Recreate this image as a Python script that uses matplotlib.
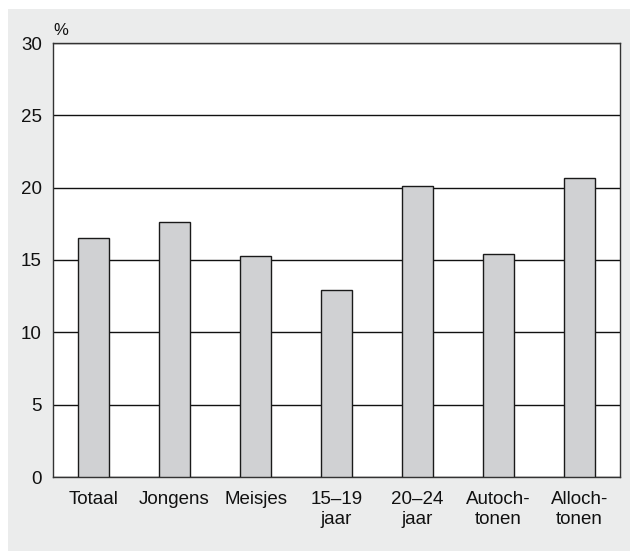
import matplotlib
matplotlib.use("Agg")
import matplotlib.pyplot as plt
from matplotlib.patches import Rectangle

plt.rcParams['font.family'] = ['Liberation Sans', 'DejaVu Sans']

categories = ["Totaal", "Jongens", "Meisjes", "15–19\njaar", "20–24\njaar", "Autoch-\ntonen", "Alloch-\ntonen"]
values = [16.5, 17.65, 15.25, 12.9, 20.1, 15.4, 20.7]
yticks = [0, 5, 10, 15, 20, 25, 30]

W, H = 630, 551
fig = plt.figure(figsize=(W / 100, H / 100), dpi=100)
fig.patch.set_facecolor("white")
bg = Rectangle((8 / W, 0), 1 - 8 / W, (H - 9) / H, transform=fig.transFigure,
               facecolor="#ebecec", edgecolor="none", zorder=-10)
fig.add_artist(bg)

ax = fig.add_axes([53 / W, (H - 477) / H, 567 / W, 434 / H])
ax.set_zorder(5)
ax.set_facecolor("white")
x = list(range(len(categories)))
ax.bar(x, values, width=0.395, color="#d0d1d3", edgecolor="#1a1a1a", linewidth=1.0, zorder=3)
ax.set_xlim(-0.5, len(categories) - 0.5)
ax.set_ylim(0, 30)
ax.set_yticks(yticks)
ax.set_yticklabels([str(t) for t in yticks], fontsize=13.5)
ax.set_xticks(x)
ax.set_xticklabels(categories, fontsize=13.5, linespacing=1.25)
ax.tick_params(axis="both", length=0, colors="#111111")
ax.tick_params(axis="y", pad=8)
ax.tick_params(axis="x", pad=10)
ax.yaxis.grid(True, color="#111111", linewidth=1.0, zorder=1)
ax.set_axisbelow(True)
for s in ax.spines.values():
    s.set_color("#333333")
    s.set_linewidth(1.0)
ax.text(0.0, 1.012, "%", transform=ax.transAxes, fontsize=12, ha="left", va="bottom", color="#111111")

fig.savefig("out.png", dpi=100, facecolor=fig.get_facecolor())
